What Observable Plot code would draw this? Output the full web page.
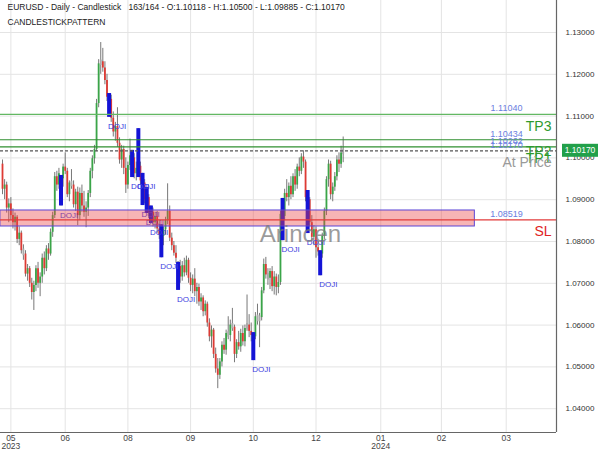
<!DOCTYPE html>
<html><head><meta charset="utf-8">
<script src="https://cdn.jsdelivr.net/npm/d3@7"></script>
<script src="https://cdn.jsdelivr.net/npm/@observablehq/plot@0.6"></script>
<style>body{margin:0;background:#fff;font-family:"Liberation Sans",Arial,sans-serif}</style>
</head><body><div id="chart"></div>
<script>
const titleLine1 = "EURUSD - Daily - Candlestick\u00a0\u00a0\u00a0163/164 - O:1.10118 - H:1.10500 - L:1.09885 - C:1.10170";
const titleLine2 = "CANDLESTICKPATTERN";
const watermark = "Arincen";

const opens = [1.0985,1.0925,1.0935,1.0880,1.0890,1.0862,1.0845,1.0858,1.0805,1.0820,
1.0778,1.0770,1.0722,1.0735,1.0700,1.0678,1.0695,1.0735,1.0700,1.0715,
1.0760,1.0735,1.0782,1.0770,1.0822,1.0862,1.0955,1.0935,1.0952,1.0950,
1.0978,1.0968,1.0912,1.0940,1.0935,1.0888,1.0918,1.0862,1.0915,1.0885,
1.0870,1.0880,1.0915,1.0968,1.0998,1.1020,1.1130,1.1225,1.1230,1.1215,
1.1185,1.1145,1.1140,1.1095,1.1062,1.1075,1.1035,1.0995,1.1020,1.0975,
1.0935,1.0982,1.1005,1.1000,1.0962,1.0975,1.0980,1.0945,1.0940,1.0900,
1.0905,1.0868,1.0870,1.0845,1.0860,1.0830,1.0815,1.0812,1.0828,1.0850,
1.0872,1.0808,1.0790,1.0772,1.0748,1.0740,1.0715,1.0742,1.0725,1.0755,
1.0712,1.0695,1.0710,1.0680,1.0690,1.0655,1.0665,1.0632,1.0650,1.0605,
1.0572,1.0588,1.0530,1.0495,1.0480,1.0512,1.0552,1.0540,1.0580,1.0575,
1.0600,1.0595,1.0530,1.0558,1.0548,1.0580,1.0560,1.0592,1.0600,1.0585,
1.0575,1.0572,1.0620,1.0612,1.0618,1.0682,1.0745,1.0720,1.0712,1.0728,
1.0692,1.0715,1.0690,1.0702,1.0865,1.0860,1.0915,1.0905,1.0932,1.0912,
1.0955,1.0935,1.0978,1.0968,1.1002,1.0990,1.0905,1.0900,1.0845,1.0810,
1.0828,1.0785,1.0773,1.0770,1.0812,1.0872,1.0948,1.0985,1.0912,1.0930,
1.0955,1.0995,1.0985,1.10118];
const highs = [1.0995,1.0948,1.0942,1.0902,1.0905,1.0878,1.0868,1.0862,1.0835,1.0825,
1.0792,1.0778,1.0745,1.0740,1.0712,1.0705,1.0742,1.0750,1.0725,1.0770,
1.0775,1.0790,1.0795,1.0830,1.0870,1.0965,1.0968,1.0975,1.0958,1.0985,
1.1012,1.0975,1.0945,1.0972,1.0945,1.0925,1.0930,1.0928,1.0935,1.0920,
1.0895,1.0922,1.0975,1.1005,1.1030,1.1140,1.1235,1.1276,1.1262,1.1230,
1.1200,1.1154,1.1150,1.1110,1.1085,1.1120,1.1048,1.1030,1.1028,1.1000,
1.0990,1.1045,1.1018,1.1010,1.0990,1.1070,1.0990,1.0963,1.0948,1.0929,
1.0912,1.0885,1.0880,1.0870,1.0872,1.0850,1.0840,1.0835,1.0858,1.0938,
1.0885,1.0820,1.0800,1.0790,1.0750,1.0755,1.0752,1.0760,1.0765,1.0760,
1.0725,1.0720,1.0735,1.0700,1.0698,1.0675,1.0670,1.0658,1.0655,1.0615,
1.0598,1.0592,1.0545,1.0520,1.0520,1.0560,1.0568,1.0588,1.0620,1.0612,
1.0640,1.0600,1.0565,1.0585,1.0590,1.0598,1.0600,1.0672,1.0625,1.0605,
1.0582,1.0630,1.0650,1.0628,1.0690,1.0758,1.0762,1.0735,1.0735,1.0740,
1.0728,1.0722,1.0720,1.0872,1.0903,1.0925,1.0948,1.0940,1.0955,1.0962,
1.0972,1.0985,1.1000,1.1010,1.1017,1.0995,1.0922,1.0905,1.0862,1.0838,
1.0835,1.0800,1.0778,1.0820,1.0880,1.0955,1.0995,1.0992,1.0940,1.0965,
1.1005,1.1012,1.1028,1.10500];
const lows = [1.0912,1.0900,1.0868,1.0845,1.0850,1.0830,1.0825,1.0795,1.0790,1.0770,
1.0755,1.0715,1.0705,1.0690,1.0660,1.0635,1.0680,1.0688,1.0668,1.0700,
1.0720,1.0728,1.0755,1.0765,1.0810,1.0855,1.0920,1.0925,1.0885,1.0930,
1.0960,1.0905,1.0895,1.0925,1.0880,1.0872,1.0838,1.0850,1.0870,1.0858,
1.0833,1.0860,1.0905,1.0950,1.0985,1.1015,1.1120,1.1200,1.1205,1.1175,
1.1135,1.1097,1.1085,1.1050,1.1040,1.1025,1.0985,1.0975,1.0960,1.0915,
1.0925,1.0970,1.0953,1.0950,1.0945,1.0953,1.0935,1.0886,1.0890,1.0867,
1.0855,1.0843,1.0835,1.0830,1.0820,1.0805,1.0761,1.0790,1.0815,1.0840,
1.0800,1.0778,1.0765,1.0748,1.0683,1.0700,1.0705,1.0715,1.0718,1.0700,
1.0680,1.0675,1.0668,1.0650,1.0645,1.0635,1.0620,1.0622,1.0595,1.0560,
1.0545,1.0520,1.0485,1.0448,1.0470,1.0500,1.0530,1.0528,1.0565,1.0560,
1.0585,1.0510,1.0520,1.0540,1.0535,1.0550,1.0548,1.0585,1.0570,1.0560,
1.0515,1.0565,1.0600,1.0546,1.0610,1.0675,1.0710,1.0695,1.0685,1.0680,
1.0672,1.0670,1.0675,1.0695,1.0802,1.0850,1.0895,1.0885,1.0900,1.0905,
1.0920,1.0925,1.0955,1.0960,1.0975,1.0895,1.0819,1.0835,1.0800,1.0790,
1.0760,1.0765,1.0718,1.0760,1.0805,1.0862,1.0930,1.0900,1.0895,1.0920,
1.0945,1.0965,1.0975,1.09885];
const closes = [1.0925,1.0935,1.0880,1.0890,1.0862,1.0845,1.0858,1.0805,1.0820,1.0778,
1.0770,1.0722,1.0735,1.0700,1.0678,1.0695,1.0735,1.0700,1.0715,1.0760,
1.0735,1.0782,1.0770,1.0822,1.0862,1.0955,1.0935,1.0962,1.0950,1.0978,
1.0968,1.0912,1.0940,1.0935,1.0888,1.0918,1.0862,1.0915,1.0885,1.0870,
1.0880,1.0915,1.0968,1.0998,1.1020,1.1130,1.1225,1.1230,1.1215,1.1185,
1.1145,1.1140,1.1095,1.1062,1.1075,1.1035,1.0995,1.1020,1.0975,1.0935,
1.0982,1.1005,1.1000,1.0962,1.0975,1.0980,1.0945,1.0940,1.0900,1.0905,
1.0868,1.0870,1.0845,1.0860,1.0830,1.0815,1.0812,1.0828,1.0850,1.0872,
1.0808,1.0790,1.0772,1.0760,1.0740,1.0715,1.0742,1.0725,1.0755,1.0712,
1.0695,1.0710,1.0680,1.0690,1.0655,1.0665,1.0632,1.0650,1.0605,1.0572,
1.0588,1.0530,1.0495,1.0480,1.0512,1.0552,1.0540,1.0580,1.0575,1.0600,
1.0595,1.0530,1.0558,1.0548,1.0580,1.0560,1.0592,1.0600,1.0585,1.0575,
1.0572,1.0620,1.0612,1.0618,1.0682,1.0745,1.0720,1.0712,1.0728,1.0692,
1.0715,1.0690,1.0702,1.0865,1.0860,1.0915,1.0905,1.0932,1.0912,1.0955,
1.0935,1.0978,1.0968,1.1002,1.0990,1.0905,1.0900,1.0845,1.0810,1.0828,
1.0785,1.0775,1.0770,1.0812,1.0872,1.0948,1.0985,1.0912,1.0930,1.0955,
1.0995,1.0985,1.1012,1.10170];

const dojiIndex = [28,51,62,65,67,69,71,76,84,120,134,146,152];
const xTickIndex = [4,30,60,90,120,150,181,210,241];
const xTickLabels = ["05\n2023","06","08","09","10","12","01\n2024","02","03"];
const yTicks = [1.04,1.05,1.06,1.07,1.08,1.09,1.10,1.11,1.12,1.13];
const levelValues = [1.11040,1.10434,1.10262,1.10170,1.08519];
const levelLabels = ["1.11040","1.10434","1.10262","1.10170","1.08519"];
const levelNames = ["TP3","TP2","TP1","At Price","SL"];
const zoneLow = 1.08359, zoneHigh = 1.08742;
const zoneStartIndex = -1, zoneEndIndex = 226;
const lastPrice = 1.10170;

const candles = opens.map((o,i)=>({i, o, h: highs[i], l: lows[i], c: closes[i]}));
const dojis = dojiIndex.map(i => candles[i]);
const levels = levelValues.map((v,k)=>({v, label: levelLabels[k], name: levelNames[k]}));
const kind = d => d.c - d.o > 0.0009 ? "up" : d.o - d.c > 0.0009 ? "down" : "flat";
const lineColor = {TP3:"#63b863", TP2:"#2f8f2f", TP1:"#2f8f2f", "At Price":"#555", SL:"#e23b3b"};
const tagColor = {TP3:"#2e9a2e", TP2:"#2e9a2e", TP1:"#2e9a2e", "At Price":"#9a9a9a", SL:"#e02424"};
const font = "'Liberation Sans', Arial, sans-serif";

const chart = Plot.plot({
  width: 600, height: 450,
  marginTop: 0, marginRight: 44, marginBottom: 18, marginLeft: 0,
  style: {fontFamily: font, background: "#fff"},
  x: {domain: [-0.96, 265.07], axis: null, label: null},
  y: {domain: [1.034306, 1.137656], axis: null, label: null},
  marks: [
    Plot.ruleY(yTicks, {stroke: "#e4e4e4"}),
    Plot.ruleX(xTickIndex, {stroke: "#e4e4e4"}),
    Plot.ruleX(candles, {x: "i", y1: "l", y2: "h", stroke: "#555", strokeWidth: 0.8}),
    Plot.ruleX(candles.filter(d => kind(d) === "up"), {x: "i", y1: "o", y2: "c", stroke: "#3aa548", strokeWidth: 1.8}),
    Plot.ruleX(candles.filter(d => kind(d) === "down"), {x: "i", y1: "o", y2: "c", stroke: "#de3a34", strokeWidth: 1.8}),
    Plot.ruleX(candles.filter(d => kind(d) === "flat"), {x: "i", y1: d => Math.max(d.o, d.c) + 0.0004, y2: d => Math.min(d.o, d.c) - 0.0004, stroke: "#aaaaaa", strokeWidth: 1.8}),
    Plot.ruleX(dojis, {x: "i", y1: "l", y2: "h", stroke: "#1414d6", strokeWidth: 4}),
    Plot.text(dojis, {x: "i", y: "l", text: () => "DOJI", dy: 9, dx: -1, textAnchor: "start", fill: "#3c3ce0", fontSize: 8}),
    Plot.ruleY(levels.filter(d => d.name !== "SL" && d.name !== "At Price"), {y: "v", stroke: d => lineColor[d.name], strokeWidth: 1.2}),
    Plot.ruleY(levels.filter(d => d.name === "At Price"), {y: "v", stroke: "#555", strokeWidth: 1.2, strokeDasharray: "3,2"}),
    Plot.rect([{lo: zoneLow, hi: zoneHigh}], {x1: () => zoneStartIndex, x2: () => zoneEndIndex, y1: "lo", y2: "hi", fill: "rgb(235,70,70)", fillOpacity: 0.4, stroke: "#5b45d6", strokeWidth: 1}),
    Plot.ruleY(levels.filter(d => d.name === "SL"), {y: "v", stroke: "#e23b3b", strokeWidth: 1.2}),
    Plot.text([watermark], {frameAnchor: "top-left", dx: 300, dy: 224, text: d => d, textAnchor: "middle", fontSize: 24, fill: "#7a7a7a", fillOpacity: 0.75}),
    Plot.text(levels, {y: "v", text: "label", frameAnchor: "right", dx: -50, dy: -6, textAnchor: "middle", fill: "#6a7ee0", fontSize: 9}),
    Plot.text(levels, {y: "v", text: "name", frameAnchor: "right", dx: -5, dy: 12, textAnchor: "end", fill: d => tagColor[d.name], fontSize: 14}),
    Plot.text([titleLine1], {frameAnchor: "top-left", dx: 7, dy: 7, text: d => d, textAnchor: "start", lineAnchor: "middle", fill: "#222", fontSize: 8.5}),
    Plot.text([titleLine2], {frameAnchor: "top-left", dx: 7, dy: 22, text: d => d, textAnchor: "start", lineAnchor: "middle", fill: "#222", fontSize: 8.5}),
    Plot.ruleX([265.07], {stroke: "#666", strokeWidth: 1.2}),
    Plot.ruleY([1.034306], {stroke: "#666", strokeWidth: 1.2}),
    Plot.axisY(yTicks, {anchor: "right", label: null, tickSize: 0, tickPadding: 9, tickFormat: d => d.toFixed(5), fontSize: 8, fill: "#333"}),
    Plot.axisX(xTickIndex, {anchor: "bottom", label: null, tickSize: 0, tickPadding: 2, tickFormat: d => xTickLabels[xTickIndex.indexOf(d)], fontSize: 8.5, fill: "#444"})
  ]
});

const ys = chart.scale("y");
const py = ys.apply(lastPrice);
const svg = d3.select(chart);
svg.append("rect").attr("x", 562).attr("y", py - 6.5).attr("width", 36).attr("height", 13).attr("fill", "#22a04a");
svg.append("text").attr("x", 580).attr("y", py).attr("dy", "0.33em").attr("text-anchor", "middle")
  .attr("fill", "#fff").attr("font-size", 8.5).attr("font-family", font).text(lastPrice.toFixed(5));
document.getElementById("chart").appendChild(chart);
</script>
</body></html>
